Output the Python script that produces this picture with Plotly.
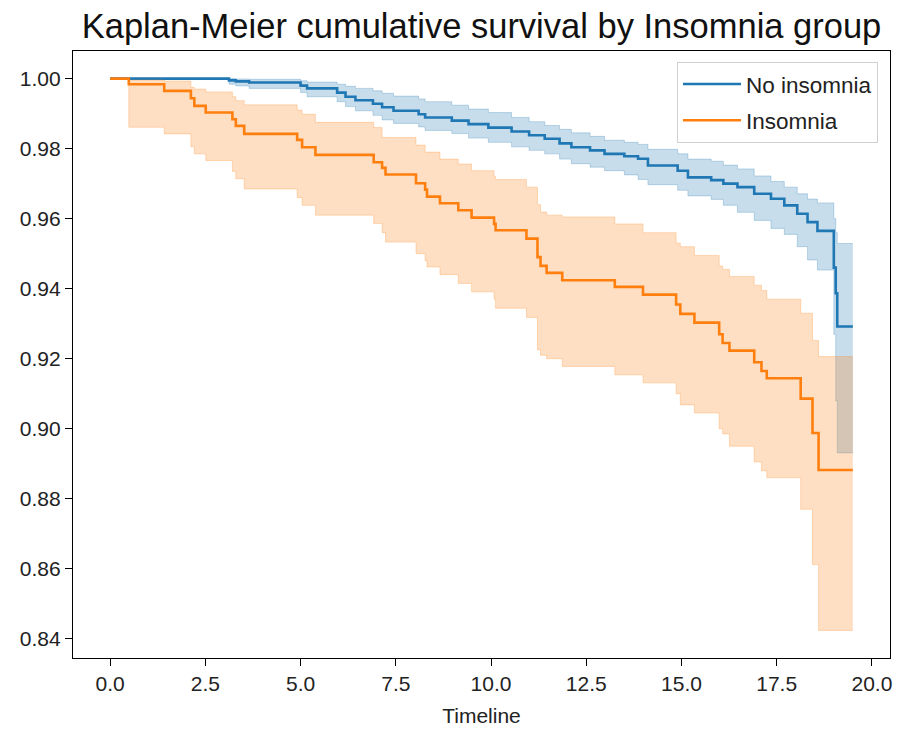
import plotly.graph_objects as go

# ---- data (step-function Kaplan-Meier estimates) ----
no_ins_time = [0.00, 3.12, 3.30, 3.65, 5.00, 5.17, 5.96, 6.18, 6.44, 6.90, 7.14, 7.44,
               8.10, 8.27, 8.97, 9.41, 9.93, 10.54, 11.00, 11.41, 11.80, 12.11, 12.60,
               12.98, 13.50, 13.86, 14.12, 14.90, 15.17, 15.78, 16.10, 16.47, 16.91,
               17.35, 17.70, 18.04, 18.31, 18.57, 19.00, 19.05, 19.09, 19.50]
no_ins_surv = [1.0000, 0.9995, 0.9992, 0.9989, 0.9980, 0.9972, 0.9960, 0.9948, 0.9938,
               0.9928, 0.9918, 0.9908, 0.9898, 0.9889, 0.9880, 0.9870, 0.9860, 0.9849,
               0.9838, 0.9828, 0.9815, 0.9804, 0.9795, 0.9785, 0.9778, 0.9771, 0.9752,
               0.9737, 0.9718, 0.9710, 0.9700, 0.9690, 0.9671, 0.9657, 0.9638, 0.9614,
               0.9590, 0.9565, 0.9460, 0.9387, 0.9292, 0.9292]
no_ins_upper = [1.0000, 1.0000, 0.9999, 0.9998, 0.9994, 0.9990, 0.9984, 0.9978, 0.9972,
                0.9965, 0.9958, 0.9950, 0.9942, 0.9934, 0.9924, 0.9913, 0.9903, 0.9889,
                0.9877, 0.9866, 0.9855, 0.9845, 0.9835, 0.9824, 0.9818, 0.9812, 0.9798,
                0.9785, 0.9770, 0.9764, 0.9753, 0.9742, 0.9722, 0.9706, 0.9690, 0.9671,
                0.9656, 0.9645, 0.9600, 0.9560, 0.9529, 0.9529]
no_ins_lower = [1.0000, 0.9984, 0.9979, 0.9972, 0.9960, 0.9948, 0.9934, 0.9920, 0.9908,
                0.9895, 0.9882, 0.9872, 0.9862, 0.9852, 0.9843, 0.9830, 0.9818, 0.9805,
                0.9795, 0.9785, 0.9770, 0.9757, 0.9747, 0.9737, 0.9725, 0.9712, 0.9697,
                0.9681, 0.9665, 0.9655, 0.9638, 0.9618, 0.9595, 0.9572, 0.9555, 0.9520,
                0.9482, 0.9453, 0.9270, 0.9080, 0.8931, 0.8931]

ins_time = [0.00, 0.49, 1.42, 2.12, 2.21, 2.51, 3.21, 3.30, 3.52, 4.91, 5.04, 5.39,
            6.92, 7.14, 7.23, 8.03, 8.27, 8.32, 8.66, 9.14, 9.49, 10.08, 10.12, 10.93,
            11.22, 11.30, 11.46, 11.87, 13.25, 13.99, 14.86, 14.97, 15.34, 15.99, 16.08,
            16.26, 16.91, 17.10, 17.24, 18.13, 18.44, 18.60, 19.50]
ins_surv = [1.0000, 0.9984, 0.9965, 0.9944, 0.9922, 0.9903, 0.9884, 0.9865, 0.9842,
            0.9825, 0.9804, 0.9782, 0.9761, 0.9745, 0.9726, 0.9701, 0.9683, 0.9663,
            0.9644, 0.9624, 0.9603, 0.9585, 0.9567, 0.9543, 0.9490, 0.9465, 0.9445,
            0.9424, 0.9405, 0.9383, 0.9355, 0.9328, 0.9303, 0.9270, 0.9245, 0.9223,
            0.9190, 0.9165, 0.9144, 0.9086, 0.8988, 0.8882, 0.8882]
ins_upper = [1.0000, 0.9996, 0.9993, 0.9975, 0.9970, 0.9962, 0.9948, 0.9937, 0.9925,
             0.9910, 0.9898, 0.9875, 0.9860, 0.9832, 0.9832, 0.9810, 0.9790, 0.9790,
             0.9770, 0.9756, 0.9737, 0.9720, 0.9712, 0.9690, 0.9640, 0.9619, 0.9610,
             0.9605, 0.9585, 0.9560, 0.9530, 0.9520, 0.9495, 0.9465, 0.9455, 0.9435,
             0.9410, 0.9395, 0.9370, 0.9330, 0.9252, 0.9206, 0.9206]
ins_lower = [1.0000, 0.9861, 0.9842, 0.9805, 0.9785, 0.9766, 0.9735, 0.9714, 0.9685,
             0.9660, 0.9638, 0.9610, 0.9586, 0.9560, 0.9533, 0.9500, 0.9480, 0.9462,
             0.9440, 0.9415, 0.9391, 0.9370, 0.9344, 0.9318, 0.9225, 0.9210, 0.9200,
             0.9178, 0.9154, 0.9131, 0.9100, 0.9068, 0.9045, 0.9000, 0.8985, 0.8950,
             0.8905, 0.8880, 0.8860, 0.8770, 0.8612, 0.8424, 0.8424]

x_ticks = [0.0, 2.5, 5.0, 7.5, 10.0, 12.5, 15.0, 17.5, 20.0]
y_ticks = [0.84, 0.86, 0.88, 0.90, 0.92, 0.94, 0.96, 0.98, 1.00]

BLUE = "#1f77b4"
ORANGE = "#ff7f0e"
BLUE_FILL = "rgba(31,119,180,0.25)"
ORANGE_FILL = "rgba(255,127,14,0.25)"
FONT = "Liberation Sans, Arial, sans-serif"

fig = go.Figure()

def add_group(t, s, up, lo, color, fill, name, group):
    fig.add_trace(go.Scatter(x=t, y=up, mode="lines", line=dict(color=fill, width=1, shape="hv"),
                             showlegend=False, hoverinfo="skip", legendgroup=group))
    fig.add_trace(go.Scatter(x=t, y=lo, mode="lines", line=dict(color=fill, width=1, shape="hv"),
                             fill="tonexty", fillcolor=fill, showlegend=False,
                             hoverinfo="skip", legendgroup=group))
    fig.add_trace(go.Scatter(x=t, y=s, mode="lines", line=dict(color=color, width=2.6, shape="hv"),
                             name=name, legendgroup=group))

add_group(no_ins_time, no_ins_surv, no_ins_upper, no_ins_lower, BLUE, BLUE_FILL, "No insomnia", "a")
add_group(ins_time, ins_surv, ins_upper, ins_lower, ORANGE, ORANGE_FILL, "Insomnia", "b")

all_t = no_ins_time + ins_time
all_y = no_ins_upper + no_ins_lower + ins_upper + ins_lower
xpad = 0.05 * (max(all_t) - min(all_t))
ypad = 0.05 * (max(all_y) - min(all_y))

axis_common = dict(showline=True, linecolor="black", linewidth=1.3, mirror=True,
                   ticks="outside", ticklen=7, tickwidth=1.3, tickcolor="black",
                   showgrid=False, zeroline=False,
                   tickfont=dict(family=FONT, size=21, color="#222222"))

fig.update_layout(
    width=897, height=732,
    margin=dict(l=73, r=5, t=51, b=74),
    plot_bgcolor="white", paper_bgcolor="white",
    title=dict(text="Kaplan-Meier cumulative survival by Insomnia group",
               font=dict(family=FONT, size=34.5, color="#111111"),
               x=0.5, xref="paper", xanchor="center",
               y=1 - 26 / 732, yref="container", yanchor="middle"),
    xaxis=dict(range=[min(all_t) - xpad, max(all_t) + xpad], tickvals=x_ticks,
               tickformat=".1f",
               title=dict(text="Timeline", font=dict(family=FONT, size=21, color="#222222"),
                          standoff=13),
               **axis_common),
    yaxis=dict(range=[min(all_y) - ypad, max(all_y) + ypad], tickvals=y_ticks,
               tickformat=".2f", **axis_common),
    legend=dict(x=0.9853, y=0.982, xanchor="right", yanchor="top",
                bgcolor="rgba(255,255,255,0.85)", bordercolor="#d0d0d0", borderwidth=1,
                font=dict(family=FONT, size=22.5, color="#222222"),
                itemwidth=58,
                traceorder="grouped", tracegroupgap=4),
    showlegend=True,
)

fig.write_html("out.html")
